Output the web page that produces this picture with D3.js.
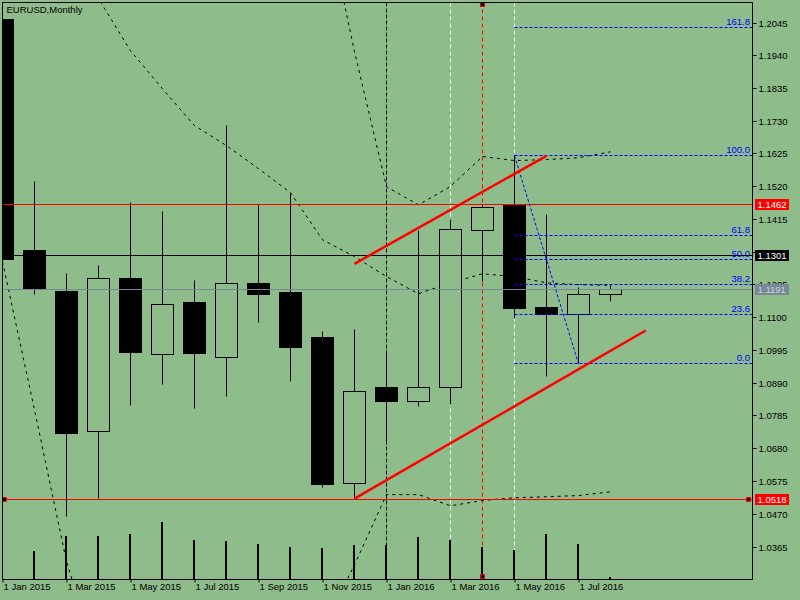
<!DOCTYPE html>
<html>
<head>
<meta charset="utf-8">
<script src="https://cdn.jsdelivr.net/npm/d3@7"></script>
<style>
  body { margin: 0; background: #8FBC8B; }
  svg text { font-family: "Liberation Sans", Arial, sans-serif; }
</style>
</head>
<body>
<div id="chart"></div>
<script>
// Monthly bars, Jan 2015 .. Aug 2016
const months = ["Jan 2015", "Feb 2015", "Mar 2015", "Apr 2015", "May 2015", "Jun 2015", "Jul 2015",
    "Aug 2015", "Sep 2015", "Oct 2015", "Nov 2015", "Dec 2015", "Jan 2016", "Feb 2016", "Mar 2016",
    "Apr 2016", "May 2016", "Jun 2016", "Jul 2016", "Aug 2016"];
const opens  = [1.2056, 1.1315, 1.1184, 1.0734, 1.1225, 1.0981, 1.1148, 1.0974, 1.1211, 1.1180,
    1.1036, 1.0567, 1.0876, 1.0832, 1.0875, 1.1381, 1.1459, 1.1132, 1.1110, 1.1173];
const highs  = [1.2058, 1.1536, 1.1241, 1.1267, 1.1469, 1.1440, 1.1219, 1.1716, 1.1462, 1.1498,
    1.1055, 1.1062, 1.0994, 1.1379, 1.1414, 1.1464, 1.1620, 1.1430, 1.1196, 1.1208];
const lows   = [1.1098, 1.1175, 1.0463, 1.0522, 1.0819, 1.0886, 1.0809, 1.0848, 1.1085, 1.0896,
    1.0556, 1.0520, 1.0700, 1.0816, 1.0821, 1.1215, 1.1099, 1.0912, 1.0953, 1.1152];
const closes = [1.1288, 1.1194, 1.0729, 1.1225, 1.0989, 1.1144, 1.0986, 1.1211, 1.1176, 1.1005,
    1.0566, 1.0862, 1.0832, 1.0876, 1.1382, 1.1455, 1.1130, 1.1110, 1.1173, 1.1191];
const volumes = [null, 560, 860, 860, 900, 1140, 780, 760, 700, 640, 620, 680, 680, 840, 780,
    640, 580, 900, 700, 40];

// Bollinger bands (values above / below the visible range are estimates)
const bbUpper  = [1.4400, 1.4300, 1.4250, 1.4200, 1.4050, 1.3900, 1.3700, 1.3500, 1.3250, 1.2950,
    1.2440, 1.1953, 1.1520, 1.1462, 1.1521, 1.1617, 1.1604, 1.1607, 1.1613, 1.1632];
const bbMiddle = [1.2858, 1.2601, 1.2344, 1.2123, 1.1956, 1.1834, 1.1716, 1.1652, 1.1578, 1.1501,
    1.1350, 1.1296, 1.1232, 1.1177, 1.1212, 1.1241, 1.1232, 1.1212, 1.1206, 1.1204];
const bbLower  = [1.1280, 1.0805, 1.0318, 0.9990, 0.9930, 0.9900, 0.9920, 0.9960, 1.0000, 1.0040,
    1.0103, 1.0308, 1.0533, 1.0533, 1.0497, 1.0514, 1.0523, 1.0526, 1.0530, 1.0542];

const priceTicks = [1.2045, 1.1940, 1.1835, 1.1730, 1.1625, 1.1520, 1.1415, 1.1310, 1.1205,
    1.1100, 1.0995, 1.0890, 1.0785, 1.0680, 1.0575, 1.0470, 1.0365];
const dateTickIdx = [0, 2, 4, 6, 8, 10, 12, 14, 16, 18];
const dateTickLabels = ["1 Jan 2015", "1 Mar 2015", "1 May 2015", "1 Jul 2015", "1 Sep 2015",
    "1 Nov 2015", "1 Jan 2016", "1 Mar 2016", "1 May 2016", "1 Jul 2016"];

// Objects on the chart
const redLevels = [1.1462, 1.0518];
const blackLevel = 1.1301;
const bidPrice = 1.1191;
const fibLevels = [0.0, 23.6, 38.2, 50.0, 61.8, 100.0, 161.8];
const fibHigh = 1.1619, fibLow = 1.0953;
const fibBars = [16, 18];
const channelUpper = [1.1273, 1.1619], channelUpperBars = [11, 17];
const channelLower = [1.0520, 1.1059], channelLowerBars = [11, 20.1];
const blackVLine = 12, whiteVLines = [14, 16], redVLine = 15;

const width = 800, height = 600;
const plotL = 2.5, plotT = 2.5, plotR = 752.5, plotB = 579.5;
const bg = "#8FBC8B";

const x = d3.scaleLinear().domain([0, 19]).range([2.5, 610.5]);
const y = d3.scaleLinear().domain([1.0365, 1.2045]).range([547, 23]);
const yVol = d3.scaleLinear().domain([0, 1140]).range([579, 522]);
// snap to pixel centres, MT4 draws everything on whole pixels
const sy = p => Math.floor(y(p)) + 0.5;

const svg = d3.select("#chart").append("svg")
    .attr("width", width)
    .attr("height", height);

svg.append("rect").attr("width", width).attr("height", height).attr("fill", bg);

svg.append("defs").append("clipPath").attr("id", "plot")
    .append("rect")
    .attr("x", plotL).attr("y", plotT)
    .attr("width", plotR - plotL).attr("height", plotB - plotT);

const g = svg.append("g").attr("clip-path", "url(#plot)");

// vertical lines (background objects)
const vline = (i, color, dash) => g.append("line")
    .attr("x1", x(i)).attr("x2", x(i))
    .attr("y1", plotT).attr("y2", plotB)
    .attr("stroke", color)
    .attr("stroke-dasharray", dash);
vline(blackVLine, "black", "4,2");
whiteVLines.forEach(i => vline(i, "white", "4,3"));
vline(redVLine, "#FF0000", "4,3");

// Bollinger bands
const band = d3.line().x((d, i) => x(i)).y(d => y(d));
[bbUpper, bbMiddle, bbLower].forEach(b => {
    g.append("path")
        .attr("d", band(b))
        .attr("fill", "none")
        .attr("stroke", "black")
        .attr("stroke-dasharray", "3,4");
});

// volumes
g.append("g").selectAll("rect")
    .data(volumes.map((v, i) => ({v, i})).filter(d => d.v != null))
    .enter().append("rect")
    .attr("x", d => x(d.i) - 1.5)
    .attr("width", 2)
    .attr("y", d => Math.round(yVol(d.v)))
    .attr("height", d => Math.round(yVol(0) - yVol(d.v)))
    .attr("fill", "black");

// candles
const bars = months.map((m, i) => ({i, o: opens[i], h: highs[i], l: lows[i], c: closes[i]}));
const candle = g.append("g").selectAll("g")
    .data(bars)
    .enter().append("g");
candle.append("line")
    .attr("x1", d => x(d.i)).attr("x2", d => x(d.i))
    .attr("y1", d => sy(d.h)).attr("y2", d => sy(d.l))
    .attr("stroke", "black");
candle.append("rect")
    .attr("x", d => x(d.i) - 11)
    .attr("width", 22)
    .attr("y", d => sy(Math.max(d.o, d.c)))
    .attr("height", d => Math.max(1, sy(Math.min(d.o, d.c)) - sy(Math.max(d.o, d.c))))
    .attr("fill", d => d.c < d.o ? "black" : bg)
    .attr("stroke", "black");

// horizontal levels
const hline = (p, color) => g.append("line")
    .attr("x1", plotL).attr("x2", plotR)
    .attr("y1", sy(p)).attr("y2", sy(p))
    .attr("stroke", color);
hline(bidPrice, "#778899");
hline(blackLevel, "black");
redLevels.forEach(p => hline(p, "#FF0000"));

// fibonacci retracement
const fibPrice = lv => fibLow + (fibHigh - fibLow) * lv / 100;
g.append("line")
    .attr("x1", x(fibBars[0])).attr("y1", y(fibHigh))
    .attr("x2", x(fibBars[1])).attr("y2", y(fibLow))
    .attr("stroke", "#0000FF")
    .attr("stroke-dasharray", "3,2");
fibLevels.forEach(lv => {
    g.append("line")
        .attr("x1", x(fibBars[0])).attr("x2", plotR)
        .attr("y1", sy(fibPrice(lv))).attr("y2", sy(fibPrice(lv)))
        .attr("stroke", "#0000FF")
        .attr("stroke-dasharray", "3,2");
    g.append("text")
        .attr("x", 750).attr("y", sy(fibPrice(lv)) - 2.5)
        .attr("text-anchor", "end")
        .attr("font-size", 9.5)
        .attr("fill", "#0000FF")
        .text(lv.toFixed(1));
});

// red channel
[[channelUpperBars, channelUpper], [channelLowerBars, channelLower]].forEach(([b, p]) => {
    g.append("line")
        .attr("x1", x(b[0])).attr("y1", y(p[0]))
        .attr("x2", x(b[1])).attr("y2", y(p[1]))
        .attr("stroke", "#FF0000")
        .attr("stroke-width", 2.5);
});

// selection markers
const marker = (cx, cy) => svg.append("rect")
    .attr("x", Math.round(cx) - 2.5).attr("y", Math.round(cy) - 2.5)
    .attr("width", 4).attr("height", 4)
    .attr("fill", "black").attr("stroke", "#FF0000");
marker(5, sy(redLevels[1]));
marker(749, sy(redLevels[1]));
marker(x(redVLine), 5);
marker(x(redVLine), 577);

// frame
svg.append("rect")
    .attr("x", plotL).attr("y", plotT)
    .attr("width", plotR - plotL).attr("height", plotB - plotT)
    .attr("fill", "none").attr("stroke", "black");

// price axis
const yAxis = svg.append("g")
    .attr("transform", `translate(${plotR},0)`)
    .call(d3.axisRight(y).tickValues(priceTicks).tickFormat(d3.format(".4f")).tickSize(4).tickPadding(2));
yAxis.select(".domain").remove();
yAxis.selectAll(".tick").attr("transform", d => `translate(0,${sy(d)})`);
yAxis.selectAll("text").attr("font-size", 9.5).attr("fill", "black").attr("font-family", "Liberation Sans, Arial, sans-serif");
yAxis.selectAll("line").attr("stroke", "black");

// date axis
const xAxis = svg.append("g")
    .attr("transform", `translate(0,${plotB})`)
    .call(d3.axisBottom(x).tickValues(dateTickIdx).tickFormat((d, i) => dateTickLabels[i]).tickSize(3));
xAxis.select(".domain").remove();
xAxis.selectAll("text")
    .attr("font-size", 9.5).attr("fill", "black")
    .attr("font-family", "Liberation Sans, Arial, sans-serif")
    .attr("text-anchor", "start")
    .attr("x", 0.5).attr("y", 4).attr("dy", "0.71em");
xAxis.selectAll("line").attr("stroke", "black");

// price labels on the axis
const priceLabel = (p, fill, color) => {
    const yy = sy(p);
    svg.append("rect")
        .attr("x", 755).attr("y", yy - 5.5)
        .attr("width", 34).attr("height", 11)
        .attr("fill", fill);
    svg.append("text")
        .attr("x", 757.5).attr("y", yy + 3.5)
        .attr("font-size", 9.5)
        .attr("fill", color)
        .text(p.toFixed(4));
};
priceLabel(bidPrice, "#778899", "#D3D3D3");
priceLabel(blackLevel, "black", "white");
redLevels.forEach(p => priceLabel(p, "#FF0000", "white"));

// title
svg.append("text")
    .attr("x", 6.5).attr("y", 13)
    .attr("font-size", 9.5)
    .attr("fill", "black")
    .text("EURUSD,Monthly");
</script>
</body>
</html>
